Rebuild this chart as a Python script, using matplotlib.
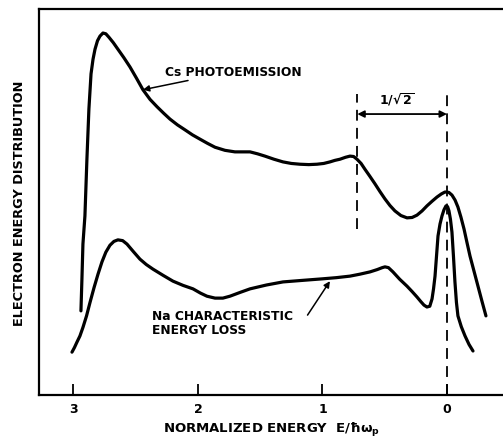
import matplotlib
matplotlib.use("Agg")
import matplotlib.pyplot as plt

# -----------------------------
# Data
# (x = normalized energy E/hbar*omega_p, y = arbitrary units)
# -----------------------------

cs_energy = [2.940, 2.932, 2.924, 2.908, 2.892, 2.876, 2.859, 2.843, 2.827, 2.807,
             2.787, 2.763, 2.740, 2.715, 2.680, 2.643, 2.595, 2.546, 2.494, 2.442,
             2.385, 2.329, 2.275, 2.225, 2.165, 2.104, 2.044, 1.984, 1.923, 1.863,
             1.783, 1.703, 1.640, 1.582, 1.522, 1.462, 1.390, 1.317, 1.250, 1.181,
             1.110, 1.044, 0.990, 0.940, 0.900, 0.859, 0.815, 0.779, 0.750, 0.723,
             0.690, 0.659, 0.620, 0.578, 0.538, 0.498, 0.458, 0.418, 0.370, 0.321,
             0.280, 0.241, 0.200, 0.161, 0.120, 0.080, 0.045, 0.016, -0.015, -0.040,
             -0.065, -0.088, -0.112, -0.137, -0.160, -0.185, -0.217, -0.249, -0.281,
             -0.313]
cs_counts = [2.18, 3.01, 3.91, 4.64, 6.11, 7.41, 8.32, 8.70, 8.96, 9.18,
             9.30, 9.38, 9.36, 9.27, 9.13, 8.96, 8.74, 8.50, 8.21, 7.91,
             7.66, 7.47, 7.30, 7.15, 7.00, 6.87, 6.74, 6.63, 6.52, 6.42,
             6.34, 6.30, 6.30, 6.30, 6.25, 6.19, 6.11, 6.04, 6.00, 5.98,
             5.97, 5.98, 6.00, 6.04, 6.08, 6.11, 6.16, 6.19, 6.18, 6.11,
             6.00, 5.85, 5.67, 5.47, 5.27, 5.08, 4.91, 4.77, 4.65, 4.59,
             4.60, 4.66, 4.77, 4.90, 5.02, 5.13, 5.21, 5.26, 5.25, 5.18,
             5.05, 4.87, 4.61, 4.30, 3.96, 3.60, 3.21, 2.82, 2.43,
             2.05]

na_energy = [3.012, 2.992, 2.972, 2.948, 2.924, 2.895, 2.867, 2.835, 2.803, 2.771,
             2.740, 2.707, 2.675, 2.643, 2.605, 2.570, 2.520, 2.466, 2.415, 2.361,
             2.280, 2.201, 2.120, 2.040, 1.980, 1.928, 1.863, 1.800, 1.743, 1.660,
             1.582, 1.450, 1.317, 1.160, 1.000, 0.890, 0.779, 0.700, 0.618, 0.560,
             0.520, 0.498, 0.470, 0.434, 0.380, 0.321, 0.280, 0.241, 0.210, 0.185,
             0.161, 0.138, 0.120, 0.108, 0.096, 0.084, 0.072, 0.056, 0.040, 0.024,
             0.008, -0.005, -0.016, -0.028, -0.040, -0.052, -0.064, -0.076, -0.088,
             -0.115, -0.145, -0.177, -0.209]
na_counts = [1.11, 1.23, 1.37, 1.53, 1.75, 2.05, 2.40, 2.78, 3.13, 3.45,
             3.70, 3.88, 3.98, 4.02, 4.00, 3.91, 3.72, 3.52, 3.38, 3.26,
             3.10, 2.95, 2.84, 2.75, 2.64, 2.56, 2.51, 2.51, 2.56, 2.66,
             2.75, 2.85, 2.93, 2.97, 3.01, 3.04, 3.08, 3.13, 3.19, 3.25,
             3.30, 3.32, 3.30, 3.19, 3.00, 2.82, 2.68, 2.54, 2.42, 2.33,
             2.28, 2.30, 2.49, 2.75, 3.08, 3.60, 4.12, 4.43, 4.64, 4.80,
             4.90, 4.88, 4.77, 4.55, 4.22, 3.60, 2.93, 2.40, 2.05,
             1.77, 1.53, 1.31, 1.14]

x_ticks = [3, 2, 1, 0]
x_tick_labels = ["3", "2", "1", "0"]

plasmon_ratio = 0.72   # 1/sqrt(2) marker position


# -----------------------------
# Plot
# -----------------------------

plt.rcParams["font.family"] = "DejaVu Sans"
plt.rcParams["font.weight"] = "bold"
plt.rcParams["axes.labelweight"] = "bold"
plt.rcParams["mathtext.fontset"] = "dejavusans"
plt.rcParams["mathtext.default"] = "bf"

fig = plt.figure(figsize=(5.03, 4.39), dpi=100)
ax = fig.add_axes([0.0775, 0.098, 0.9225, 0.879])

curve_style = dict(color="black", lw=2.3, solid_capstyle="round",
                   solid_joinstyle="round")
ax.plot(cs_energy, cs_counts, **curve_style)
ax.plot(na_energy, na_counts, **curve_style)

# dashed markers
ax.plot([plasmon_ratio, plasmon_ratio], [4.30, 7.80], color="black", lw=1.3,
        dashes=(6, 4))
ax.plot([0, 0], [0, 7.80], color="black", lw=1.3, dashes=(6, 4))
ax.annotate("", xy=(0, 7.28), xytext=(plasmon_ratio, 7.28),
            arrowprops=dict(arrowstyle="<|-|>", color="black", lw=1.3,
                            mutation_scale=10, shrinkA=0, shrinkB=0))
ax.text(0.40, 7.45, r"1/$\sqrt{2}$", fontsize=9, ha="center", va="bottom")

# labels on the curves
ax.annotate("Cs PHOTOEMISSION", xy=(2.442, 7.91), xytext=(2.265, 8.39),
            fontsize=8.8, ha="left", va="center",
            arrowprops=dict(arrowstyle="-|>", color="black", lw=1.1,
                            mutation_scale=9, shrinkA=0, shrinkB=0))
ax.text(2.37, 1.87, "Na CHARACTERISTIC\nENERGY LOSS", fontsize=8.8,
        ha="left", va="center", linespacing=1.1)
ax.annotate("", xy=(0.94, 2.95), xytext=(1.12, 2.07),
            arrowprops=dict(arrowstyle="-|>", color="black", lw=1.1,
                            mutation_scale=9, shrinkA=0, shrinkB=0))

ax.set_xlim(3.277, -0.45)
ax.set_ylim(0, 10)
ax.set_xticks(x_ticks)
ax.set_xticklabels(x_tick_labels, fontsize=9)
ax.set_yticks([])
ax.tick_params(axis="x", direction="in", length=8, width=1.3, pad=5)

ax.spines["right"].set_visible(False)
for side in ["left", "bottom", "top"]:
    ax.spines[side].set_linewidth(1.6)

ax.set_xlabel(r"NORMALIZED ENERGY  E/$\hbar\omega_{p}$", fontsize=9.5, labelpad=4)
ax.set_ylabel("ELECTRON ENERGY DISTRIBUTION", fontsize=9.3, labelpad=9)

fig.savefig("out.png", dpi=100)
